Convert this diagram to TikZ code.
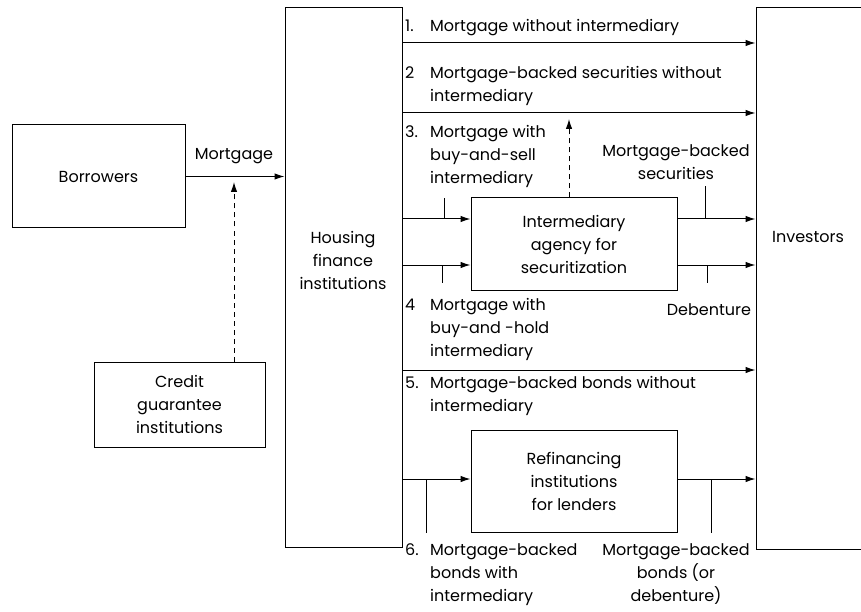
\documentclass[tikz,border=0pt]{standalone}
\usepackage{fontspec}
\setmainfont{Poppins}
\usetikzlibrary{arrows.meta}
% hanging number for the numbered channel labels
\newlength\lnumw
\setlength\lnumw{25pt}
\newcommand\lnum[1]{\makebox[\lnumw][l]{#1}}
\newcommand\lind{\hspace*{\lnumw}}
\begin{document}
\begin{tikzpicture}[x=1pt,y=-1pt,
  every node/.style={font=\fontsize{16}{23}\selectfont, inner sep=0pt},
  box/.style={draw, line width=1pt, rectangle},
  flow/.style={line width=1pt, -{Latex[length=10pt,width=6.5pt]}},
  guar/.style={flow, dash pattern=on 5pt off 4pt},
  tick/.style={line width=0.6pt},
  lab/.style={anchor=base west, align=left}
]
\clip (0,0) rectangle (861,612);
\fill[white] (0,0) rectangle (861,612);

% institutions
\node[box, minimum width=173pt, minimum height=103pt] (borrowers) at (98.5,176.5) {Borrowers};
\node[box, minimum width=171pt, minimum height=85pt, align=center] (credit) at (179.5,404.5) {Credit\\guarantee\\institutions};
\node[box, minimum width=117pt, minimum height=539pt] (housing) at (343.5,277.5) {};
\node[align=center] (hlab) at (343,260) {Housing\\finance\\institutions};
\node[box, minimum width=120pt, minimum height=541pt] (investors) at (816,278.5) {};
\node (ilab) at (808,237) {Investors};
\node[box, minimum width=206pt, minimum height=92pt, align=center] (interm) at (574,244) {Intermediary\\agency for\\securitization};
\node[box, minimum width=206pt, minimum height=102pt, align=center] (refin) at (574,481) {Refinancing\\institutions\\for lenders};

% flow levels
\coordinate (ya) at (0,43);
\coordinate (yb) at (0,113);
\coordinate (yc) at (0,219);
\coordinate (yd) at (0,265);
\coordinate (ye) at (0,370);
\coordinate (yf) at (0,479);
\coordinate (gtip) at (234,182);
\coordinate (stip) at (569,119);

% borrowers to lenders, backed by the guarantee
\draw[flow] (borrowers.east) -- (borrowers.east -| housing.west);
\node[anchor=base] (mlab) at (234,160) {Mortgage};
\draw[guar] (credit.north -| gtip) -- (gtip);

% direct channels
\draw[flow] (housing.east |- ya) -- (investors.west |- ya);
\draw[flow] (housing.east |- yb) -- (investors.west |- yb);
\draw[flow] (housing.east |- ye) -- (investors.west |- ye);

% through the securitization agency
\draw[flow] (housing.east |- yc) -- (interm.west |- yc);
\draw[flow] (housing.east |- yd) -- (interm.west |- yd);
\draw[flow] (interm.east |- yc) -- (investors.west |- yc);
\draw[flow] (interm.east |- yd) -- (investors.west |- yd);
\draw[guar] (interm.north -| stip) -- (stip);

% through the refinancing institutions
\draw[flow] (housing.east |- yf) -- (refin.west |- yf);
\draw[flow] (refin.east |- yf) -- (investors.west |- yf);

% channel labels (placed by the baseline of their last line)
\node[lab] (l1) at (405,32) {\lnum{1.}Mortgage without intermediary};
\node[lab] (l2) at (405,102) {\lnum{2}Mortgage-backed securities without\\\lind intermediary};
\node[lab] (l3) at (405,184) {\lnum{3.}Mortgage with\\\lind buy-and-sell\\\lind intermediary};
\node[lab] (l4) at (405,356) {\lnum{4}Mortgage with\\\lind buy-and -hold\\\lind intermediary};
\node[lab] (l5) at (405,411) {\lnum{5.}Mortgage-backed bonds without\\\lind intermediary};
\node[lab] (l6) at (405,601) {\lnum{6.}Mortgage-backed\\\lind bonds with\\\lind intermediary};
\node[anchor=base, align=center] (mbs) at (676,180) {Mortgage-backed\\securities};
\node[anchor=base] (deb) at (709,315) {Debenture};
\node[anchor=base, align=center] (mbb) at (676,601) {Mortgage-backed\\bonds (or\\debenture)};

% leader ticks
\draw[tick] (444,219) -- (444,198);
\draw[tick] (442,265) -- (442,283);
\draw[tick] (705,219) -- (705,186);
\draw[tick] (707,265) -- (707,283);
\draw[tick] (426,479) -- (426,533);
\draw[tick] (711,479) -- (711,533);
\end{tikzpicture}
\end{document}
